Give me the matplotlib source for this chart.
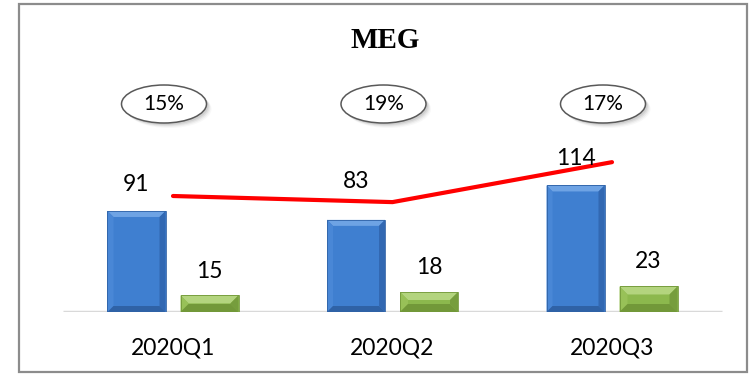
import matplotlib.pyplot as plt
from matplotlib.patches import Polygon, Ellipse, Rectangle

quarters = ['2020Q1', '2020Q2', '2020Q3']
blue_vals = [91, 83, 114]
green_vals = [15, 18, 23]
line_vals = [104.5, 99, 135]
pct_vals = [15, 19, 17]

W, H = 751, 374
fig = plt.figure(figsize=(W / 100, H / 100), dpi=100)

# px -> data scale
PX_X = 219.5      # pixels per category step
PX_Y = 1.11       # pixels per unit
base_px = 312     # baseline, px from top
ax = fig.add_axes([0, (H - base_px) / H, 1, base_px / H])
ax.set_xlim(-173 / PX_X, (W - 173) / PX_X)
ax.set_ylim(0, base_px / PX_Y)
ax.axis('off')

# outer frame
fig.patches.append(Rectangle((19 / W, 2 / H), 728 / W, 368 / H, transform=fig.transFigure,
                             fill=False, edgecolor='#8c8c8c', lw=1.6))

ax.plot([-0.5, 2.5], [0, 0], color='#d9d9d9', lw=2.5, zorder=1, solid_capstyle='butt')


def bevel_bar(xc, h, width, colors, bev=6):
    face, top, left, right, bottom = colors
    x0, x1 = xc - width / 2, xc + width / 2
    dx, dy = bev / PX_X, bev / PX_Y
    dy = min(dy, h / 2)
    parts = [
        ([(x0, 0), (x1, 0), (x1, h), (x0, h)], face),
        ([(x0, h), (x1, h), (x1 - dx, h - dy), (x0 + dx, h - dy)], top),
        ([(x0, 0), (x0, h), (x0 + dx, h - dy), (x0 + dx, dy)], left),
        ([(x1, 0), (x1, h), (x1 - dx, h - dy), (x1 - dx, dy)], right),
        ([(x0, 0), (x1, 0), (x1 - dx, dy), (x0 + dx, dy)], bottom),
    ]
    for pts, c in parts:
        ax.add_patch(Polygon(pts, closed=True, facecolor=c, edgecolor='none', zorder=2))
    ax.add_patch(Rectangle((x0, 0), width, h, fill=False, edgecolor=bottom, lw=0.6, zorder=2))


blue_cols = ('#3f7fd0', '#6ea3e4', '#4987d6', '#3268b2', '#2f62a6')
green_cols = ('#8cb84d', '#b3d47e', '#98c158', '#769d3d', '#729839')
bw = 58 / PX_X
off = 36.5 / PX_X
blue_lab_off = [26, 38, 27]
green_lab_off = [24, 25, 25]

label_font = dict(family=['Lato', 'DejaVu Sans'], fontsize=16.5, color='black')
for i, q in enumerate(quarters):
    bevel_bar(i - off, blue_vals[i], bw, blue_cols)
    bevel_bar(i + off, green_vals[i], bw, green_cols, bev=8)
    ax.text(i - off, blue_vals[i] + blue_lab_off[i] / PX_Y, str(blue_vals[i]),
            ha='center', va='center', zorder=5, **label_font)
    ax.text(i + off, green_vals[i] + green_lab_off[i] / PX_Y, str(green_vals[i]),
            ha='center', va='center', zorder=5, **label_font)
    ax.text(i, -36 / PX_Y, q, ha='center', va='center', clip_on=False, **label_font)

ax.plot(range(len(quarters)), line_vals, color='#ff0000', lw=3, zorder=4,
        solid_capstyle='round')

# percentage bubbles with drop shadow
ew, eh = 85 / PX_X, 38 / PX_Y
ey = (base_px - 104) / PX_Y
for i, p in enumerate(pct_vals):
    ex = i - 9 / PX_X
    for k, a in [(5, 0.05), (4, 0.08), (3, 0.12), (2, 0.16)]:
        ax.add_patch(Ellipse((ex + k / PX_X, ey - k / PX_Y), ew, eh, facecolor='#7f7f7f',
                             edgecolor='none', alpha=a, zorder=5))
    ax.add_patch(Ellipse((ex, ey), ew, eh, facecolor='white', edgecolor='#595959',
                         lw=1.1, zorder=6))
    ax.text(ex, ey, f'{p}%', ha='center', va='center', zorder=7,
            family=['Lato', 'DejaVu Sans'], fontsize=15)

fig.text(385 / W, 1 - 41 / H, 'MEG', ha='center', va='center',
         family=['Liberation Serif', 'DejaVu Serif'], fontweight='bold', fontsize=21)

fig.savefig('out.png', dpi=100)
